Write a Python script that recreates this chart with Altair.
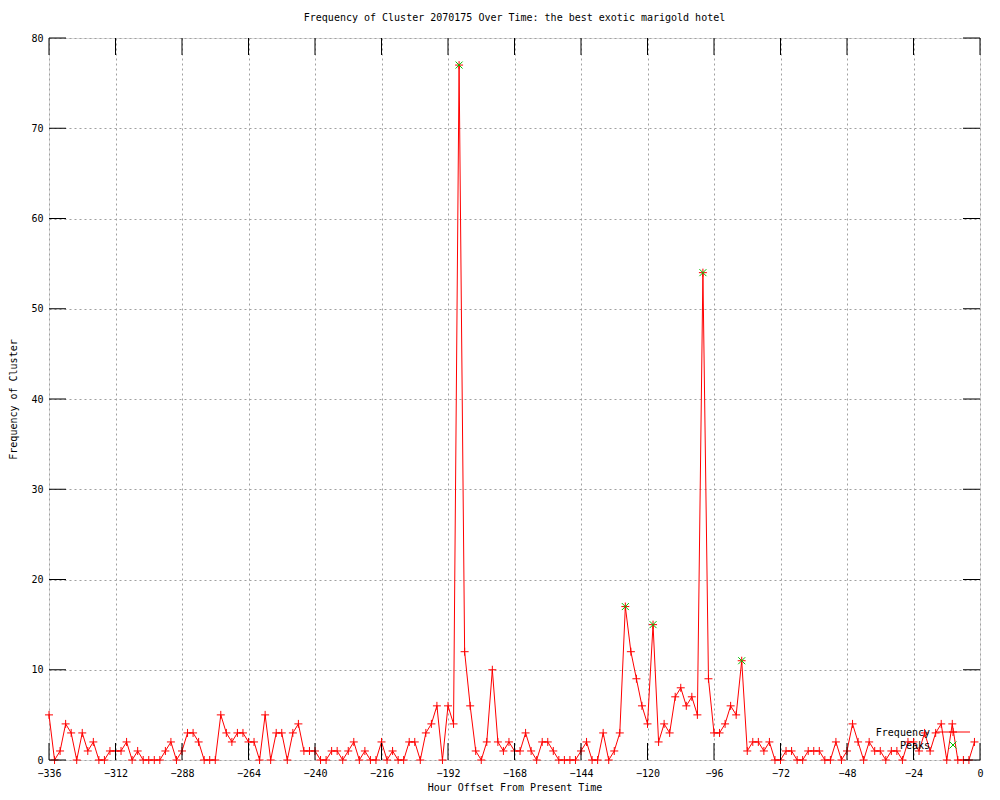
import altair as alt
import pandas as pd

# ---- data ----
hours = list(range(-336, 0, 2))
freq = [
    5, 0, 1, 4, 3, 0, 3, 1, 2, 0,
    0, 1, 1, 1, 2, 0, 1, 0, 0, 0,
    0, 1, 2, 0, 1, 3, 3, 2, 0, 0,
    0, 5, 3, 2, 3, 3, 2, 2, 0, 5,
    0, 3, 3, 0, 3, 4, 1, 1, 1, 0,
    0, 1, 1, 0, 1, 2, 0, 1, 0, 0,
    2, 0, 1, 0, 0, 2, 2, 0, 3, 4,
    6, 0, 6, 4, 77, 12, 6, 1, 0, 2,
    10, 2, 1, 2, 1, 1, 3, 1, 0, 2,
    2, 1, 0, 0, 0, 0, 1, 2, 0, 0,
    3, 0, 1, 3, 17, 12, 9, 6, 4, 15,
    2, 4, 3, 7, 8, 6, 7, 5, 54, 9,
    3, 3, 4, 6, 5, 11, 1, 2, 2, 1,
    2, 0, 0, 1, 1, 0, 0, 1, 1, 1,
    0, 0, 2, 0, 1, 4, 2, 0, 2, 1,
    1, 0, 1, 1, 0, 2, 2, 1, 3, 1,
    3, 4, 0, 4, 0, 0, 0, 2,
]
peak_hours = [-188, -128, -118, -100, -86]
peak_values = [77, 17, 15, 54, 11]
x_ticks = [-336, -312, -288, -264, -240, -216, -192, -168, -144, -120, -96, -72, -48, -24, 0]
y_ticks = [0, 10, 20, 30, 40, 50, 60, 70, 80]
legend_labels = ["Frequency", "Peaks"]

TITLE = "Frequency of Cluster 2070175 Over Time: the best exotic marigold hotel"
FONT = "DejaVu Sans Mono"
W, H = 931, 722
RED = "#ff0000"
GREEN = "#00c000"
PLUS = "M -1 0 L 1 0 M 0 -1 L 0 1"
CROSS = "M -1 -1 L 1 1 M 1 -1 L -1 1"

df = pd.DataFrame({"hour": hours, "freq": freq})
peaks = pd.DataFrame({"hour": peak_hours, "freq": peak_values})
xt = pd.DataFrame({"hour": x_ticks})
yt = pd.DataFrame({"freq": y_ticks})
leg = pd.DataFrame({"label": legend_labels})

x_axis = alt.Axis(
    values=x_ticks, title="Hour Offset From Present Time", grid=True,
    gridDash=[2, 3], gridColor="#a0a0a0", gridWidth=1, domain=False,
    ticks=False, tickSize=0, labelPadding=8, labelFont=FONT, labelFontSize=10,
    labelColor="black", titleFont=FONT, titleFontSize=10, titleFontWeight="normal",
    titleColor="black", titleX=W / 2, titleY=27, titleBaseline="middle",
    labelFlush=False, labelOverlap=False,
)
y_axis = alt.Axis(
    values=y_ticks, title="Frequency of Cluster", grid=True,
    gridDash=[2, 3], gridColor="#a0a0a0", gridWidth=1, domain=False,
    ticks=False, tickSize=0, labelPadding=6, labelFont=FONT, labelFontSize=10,
    labelColor="black", titleFont=FONT, titleFontSize=10, titleFontWeight="normal",
    titleColor="black", titleX=-36, titleY=H / 2, titleBaseline="middle",
    labelFlush=False, labelOverlap=False,
)
X = alt.X("hour:Q", scale=alt.Scale(domain=[-336, 0], nice=False, zero=False), axis=x_axis)
Y = alt.Y("freq:Q", scale=alt.Scale(domain=[0, 80], nice=False), axis=y_axis)

line = alt.Chart(df).mark_line(color=RED, strokeWidth=1).encode(x=X, y=Y)
pts = alt.Chart(df).mark_point(shape=PLUS, size=64, color=RED, strokeWidth=1, filled=False, opacity=1).encode(x=X, y=Y)
pk = alt.Chart(peaks).mark_point(shape=CROSS, size=49, color=GREEN, strokeWidth=1, filled=False, opacity=1).encode(x=X, y=Y)

tick_bot = alt.Chart(xt).mark_rule(color="black", strokeWidth=1).encode(x=X, y=alt.value(H), y2=alt.value(H - 17))
tick_top = alt.Chart(xt).mark_rule(color="black", strokeWidth=1).encode(x=X, y=alt.value(0), y2=alt.value(17))
tick_l = alt.Chart(yt).mark_rule(color="black", strokeWidth=1).encode(y=Y, x=alt.value(0), x2=alt.value(17))
tick_r = alt.Chart(yt).mark_rule(color="black", strokeWidth=1).encode(y=Y, x=alt.value(W - 17), x2=alt.value(W))

leg_text1 = alt.Chart(leg.iloc[[0]]).mark_text(font=FONT, fontSize=10, align="right", baseline="middle", color="black").encode(
    text="label:N", x=alt.value(881), y=alt.value(695)
)
leg_text2 = alt.Chart(leg.iloc[[1]]).mark_text(font=FONT, fontSize=10, align="right", baseline="middle", color="black").encode(
    text="label:N", x=alt.value(881), y=alt.value(708)
)
leg_line = alt.Chart(leg.iloc[[0]]).mark_rule(color=RED, strokeWidth=1).encode(
    x=alt.value(886), x2=alt.value(921), y=alt.value(694)
)
leg_pt = alt.Chart(leg.iloc[[0]]).mark_point(shape=PLUS, size=64, color=RED, strokeWidth=1, filled=False, opacity=1).encode(
    x=alt.value(904), y=alt.value(694)
)
leg_pk = alt.Chart(leg.iloc[[1]]).mark_point(shape=CROSS, size=49, color=GREEN, strokeWidth=1, filled=False, opacity=1).encode(
    x=alt.value(904), y=alt.value(707)
)

chart = alt.layer(
    line, pts, pk, tick_bot, tick_top, tick_l, tick_r, leg_text1, leg_text2, leg_line, leg_pt, leg_pk
).properties(
    width=W, height=H,
    title=alt.TitleParams(TITLE, font=FONT, fontSize=10, fontWeight="normal", color="black",
                          anchor="middle", frame="group", offset=10),
    autosize=alt.AutoSizeParams(type="none"),
    padding={"left": 41, "top": 30, "right": 11, "bottom": 32},
).configure_view(stroke="black", strokeWidth=1).configure(background="white")

chart.save("out.html", embed_options={"renderer": "svg", "actions": False})
